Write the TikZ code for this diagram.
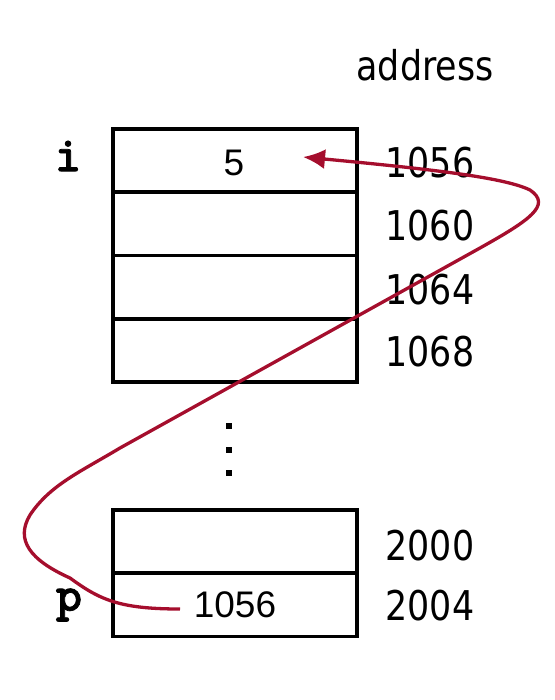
\documentclass[tikz,border=0pt]{standalone}
\usepackage{fontspec}
\usepackage{tikz}
\usetikzlibrary{positioning,arrows.meta}
\newfontfamily\addrfont[FakeStretch=0.85]{DejaVu Sans}
\newfontfamily\valfont{Liberation Sans}
\newfontfamily\varfont[FakeBold=1.5]{lmmonolt10-bold.otf}
\definecolor{ptrred}{RGB}{165,14,45}
\tikzset{
	cell/.style={draw,rectangle,line width=3.8pt,minimum width=244pt,minimum height=63.25pt,outer sep=0pt,inner sep=0pt},
	addr/.style={font=\addrfont\fontsize{41}{41}\selectfont,inner sep=0pt},
	val/.style={font=\valfont\fontsize{37}{37}\selectfont,inner sep=0pt},
	var/.style={font=\varfont\fontsize{50}{50}\selectfont,inner sep=0pt},
	dot/.style={fill,rectangle,minimum size=6.5pt,inner sep=0pt},
	pointer/.style={draw=ptrred,line width=3.3pt,-{Latex[length=22pt,width=20pt]}}
}
\begin{document}
\begin{tikzpicture}[x=1pt,y=-1pt,node distance=63.25pt,thick]
		\useasboundingbox (0,0) rectangle (554,700);
		\node[cell] (c1) at (235,160.6) {};
		\node[cell] (c2)[below of=c1] {};
		\node[cell] (c3)[below of=c2] {};
		\node[cell] (c4)[below of=c3] {};
		\node[cell] (c5) at (235,541.6) {};
		\node[cell] (c6)[below of=c5] {};

		\node[val] (ival) at (234,163) {5};
		\node[val] (pval) at (c6) {1056};

		\node[var] (ilab) at (68,156) {i};
		\node[var] (plab) at (69,605) {p};

		\node[addr] (addrhead) at (425,65) {address};
		\node[addr] (a1)[node distance=195pt,right of=c1,yshift=-1.5pt] {1056};
		\node[addr] (a2)[node distance=195pt,right of=c2,yshift=-1.5pt] {1060};
		\node[addr] (a3)[node distance=195pt,right of=c3,yshift=-2.5pt] {1064};
		\node[addr] (a4)[node distance=195pt,right of=c4,yshift=-1.5pt] {1068};
		\node[addr] (a5)[node distance=195pt,right of=c5,yshift=-4pt] {2000};
		\node[addr] (a6)[node distance=195pt,right of=c6,yshift=-1pt] {2004};

		\node[dot] (d1) at (229,426) {};
		\node[dot] (d2) at (229,450) {};
		\node[dot] (d3) at (229,473) {};

		\coordinate (ptail) at (180,609);
		\coordinate (phead) at (303,157);
		\draw[pointer] (ptail) .. controls (120,609) and (100,600) .. (70,578)
			.. controls (30,560) and (15,540) .. (30,515)
			.. controls (50,485) and (80,472) .. (120,448)
			-- (480,248)
			.. controls (530,220) and (552,205) .. (530,190)
			.. controls (505,178) and (440,170) .. (phead);
	\end{tikzpicture}
\end{document}
